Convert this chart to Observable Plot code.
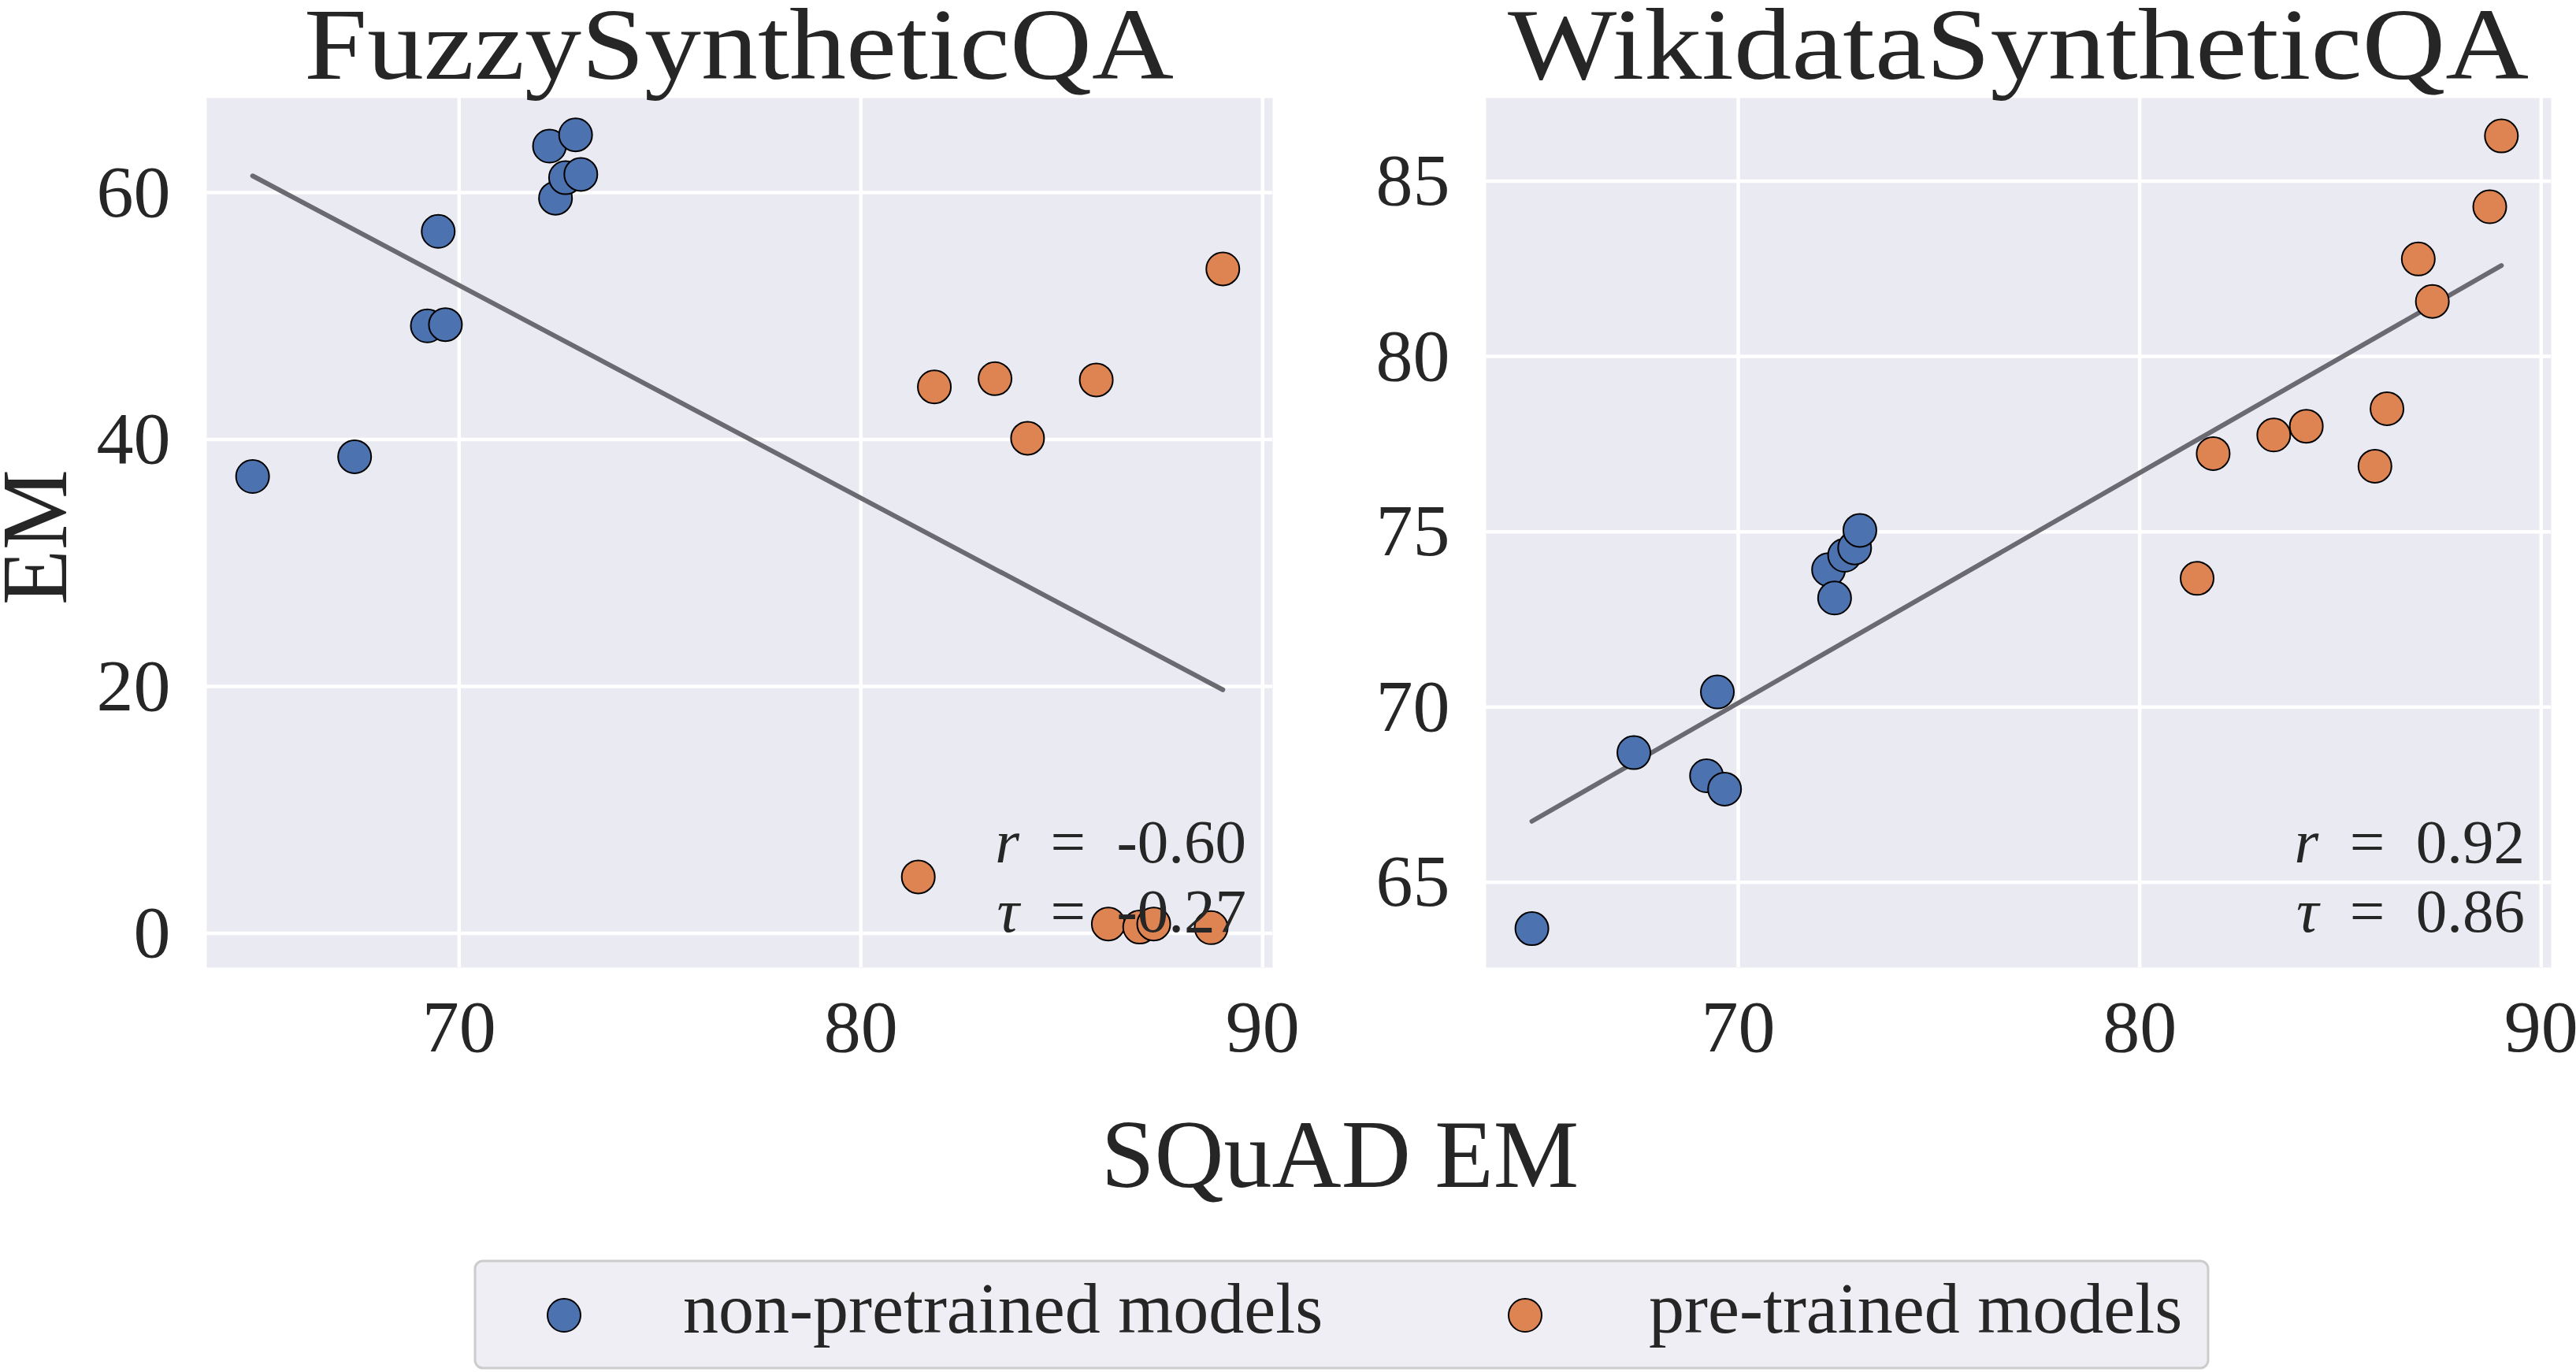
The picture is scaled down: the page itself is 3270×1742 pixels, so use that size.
<!DOCTYPE html>
<html>
<head>
<meta charset="utf-8">
<script src="https://cdn.jsdelivr.net/npm/d3@7"></script>
<script src="https://cdn.jsdelivr.net/npm/@observablehq/plot@0.6"></script>
<style>
  html, body { margin: 0; padding: 0; background: #ffffff; overflow: hidden; }
  #page { position: relative; width: 3270px; height: 1742px; }
  #page > .panel { position: absolute; top: 0; }
  #overlay { position: absolute; left: 0; top: 0; pointer-events: none; }
</style>
</head>
<body>
<div id="page"></div>
<script>
// SQuAD EM of each model, and its EM on the two synthetic QA sets
const squadEM = [64.86, 67.40, 69.48, 69.21, 69.66, 72.25, 72.40, 72.65, 72.90, 73.03,
                 81.43, 81.83, 83.34, 84.15, 85.86, 86.16, 86.94, 87.29, 88.72, 89.01];
const fuzzyEM = [37.0, 38.6, 56.85, 49.2, 49.3, 63.76, 59.54, 61.2, 64.67, 61.47,
                 4.57, 44.26, 44.92, 40.10, 44.82, 0.76, 0.51, 0.76, 0.46, 53.81];
const wikidataEM = [63.68, 68.70, 70.43, 68.04, 67.66, 73.92, 73.11, 74.33, 74.54, 75.04,
                    73.67, 77.23, 77.76, 78.01, 76.87, 78.51, 82.78, 81.57, 84.27, 86.29];
const modelGroup = ["non-pretrained models", "non-pretrained models", "non-pretrained models",
                    "non-pretrained models", "non-pretrained models", "non-pretrained models",
                    "non-pretrained models", "non-pretrained models", "non-pretrained models",
                    "non-pretrained models",
                    "pre-trained models", "pre-trained models", "pre-trained models",
                    "pre-trained models", "pre-trained models", "pre-trained models",
                    "pre-trained models", "pre-trained models", "pre-trained models",
                    "pre-trained models"];

const groupNames = ["non-pretrained models", "pre-trained models"];
const groupColors = ["#4C72B0", "#DD8452"];

const panelTitles = ["FuzzySyntheticQA", "WikidataSyntheticQA"];
const xTicks = [70, 80, 90];
const fuzzyTicks = [0, 20, 40, 60];
const wikidataTicks = [65, 70, 75, 80, 85];
const fuzzyStats = [{sym: "r", val: "-0.60"}, {sym: "τ", val: "-0.27"}];
const wikidataStats = [{sym: "r", val: "0.92"}, {sym: "τ", val: "0.86"}];
const xLabel = "SQuAD EM";
const yLabel = "EM";

const records = squadEM.map((s, i) => ({
  squad: s, fuzzy: fuzzyEM[i], wikidata: wikidataEM[i], group: modelGroup[i]
}));

const FONT = "'Liberation Serif', 'Times New Roman', serif";
const INK = "#262626";
const HEIGHT = 1380, TOP = 124, BOTTOM = 152;

// r / tau annotation in the lower right corner of a panel, as one two-line text
function statsMark(stats) {
  return (index, scales, values, dims) => {
    const xr = dims.width - dims.marginRight - 33;
    const yb = dims.height - dims.marginBottom;
    const offsets = [133, 45];
    const t = d3.create("svg:text")
      .attr("font-size", 79)
      .attr("font-family", FONT)
      .attr("fill", INK)
      .attr("text-anchor", "end");
    stats.forEach((s, i) => {
      const line = t.append("tspan").attr("x", xr).attr("y", yb - offsets[i]);
      line.append("tspan").attr("font-style", "italic").text(s.sym);
      line.append("tspan").text("\u2002=\u2002" + s.val);
    });
    return t.node();
  };
}

function panel({yKey, yDomain, yTicks, width, marginLeft, marginRight, stats}) {
  return Plot.plot({
    width, height: HEIGHT,
    marginLeft, marginRight, marginTop: TOP, marginBottom: BOTTOM,
    style: {fontFamily: FONT, color: INK, background: "transparent", overflow: "visible"},
    x: {domain: [63.72, 90.25], label: null},
    y: {domain: yDomain, label: null},
    color: {domain: groupNames, range: groupColors},
    marks: [
      Plot.frame({fill: "#EAEAF2", stroke: null}),
      Plot.gridX({ticks: xTicks, stroke: "#ffffff", strokeOpacity: 1, strokeWidth: 4.5}),
      Plot.gridY({ticks: yTicks, stroke: "#ffffff", strokeOpacity: 1, strokeWidth: 4.5}),
      Plot.axisX({ticks: xTicks, tickSize: 0, tickPadding: 40, fontSize: 94, fill: INK, label: null}),
      Plot.axisY({ticks: yTicks, tickSize: 0, tickPadding: 46, fontSize: 94, fill: INK, label: null}),
      Plot.linearRegressionY(records, {x: "squad", y: yKey, ci: 0, stroke: "#6a6a70", strokeWidth: 6}),
      Plot.dot(records, {x: "squad", y: yKey, fill: "group", stroke: "#000000", strokeWidth: 2, r: 21}),
      statsMark(stats)
    ]
  });
}

const page = document.getElementById("page");

const left = panel({yKey: "fuzzy", yDomain: [-2.77, 67.65], yTicks: fuzzyTicks,
  width: 1640, marginLeft: 262, marginRight: 25, stats: fuzzyStats});
left.classList.add("panel");
left.style.left = "0px";
page.appendChild(left);

const right = panel({yKey: "wikidata", yDomain: [62.57, 87.37], yTicks: wikidataTicks,
  width: 1630, marginLeft: 246, marginRight: 32, stats: wikidataStats});
right.classList.add("panel");
right.style.left = "1640px";
page.appendChild(right);

// Titles, shared axis labels and the legend
const overlay = d3.select(page).append("svg")
  .attr("id", "overlay")
  .attr("width", 3270).attr("height", 1742)
  .attr("font-family", FONT)
  .attr("fill", INK);

const titleCenters = [938, 2562];
const titleWidths = [1104, 1296];
panelTitles.forEach((t, i) => {
  overlay.append("text")
    .attr("x", titleCenters[i]).attr("y", 100)
    .attr("text-anchor", "middle")
    .attr("font-size", 130)
    .attr("textLength", titleWidths[i])
    .attr("lengthAdjust", "spacingAndGlyphs")
    .text(t);
});

overlay.append("text")
  .attr("x", 1701).attr("y", 1507)
  .attr("text-anchor", "middle")
  .attr("font-size", 122)
  .text(xLabel);

overlay.append("text")
  .attr("transform", "translate(84,682) rotate(-90)")
  .attr("text-anchor", "middle")
  .attr("font-size", 118)
  .attr("textLength", 172)
  .attr("lengthAdjust", "spacingAndGlyphs")
  .text(yLabel);

const legend = overlay.append("g");
legend.append("rect")
  .attr("x", 603).attr("y", 1601)
  .attr("width", 2200).attr("height", 136)
  .attr("rx", 10)
  .attr("fill", "#EEEEF4")
  .attr("stroke", "#CCCCCC")
  .attr("stroke-width", 3);
const markerX = [716, 1936];
const labelX = [867, 2093];
groupNames.forEach((g, i) => {
  legend.append("circle")
    .attr("cx", markerX[i]).attr("cy", 1670).attr("r", 21)
    .attr("fill", groupColors[i]).attr("stroke", "#000000").attr("stroke-width", 2);
  legend.append("text")
    .attr("x", labelX[i]).attr("y", 1692)
    .attr("font-size", 90)
    .text(g);
});
</script>
</body>
</html>
